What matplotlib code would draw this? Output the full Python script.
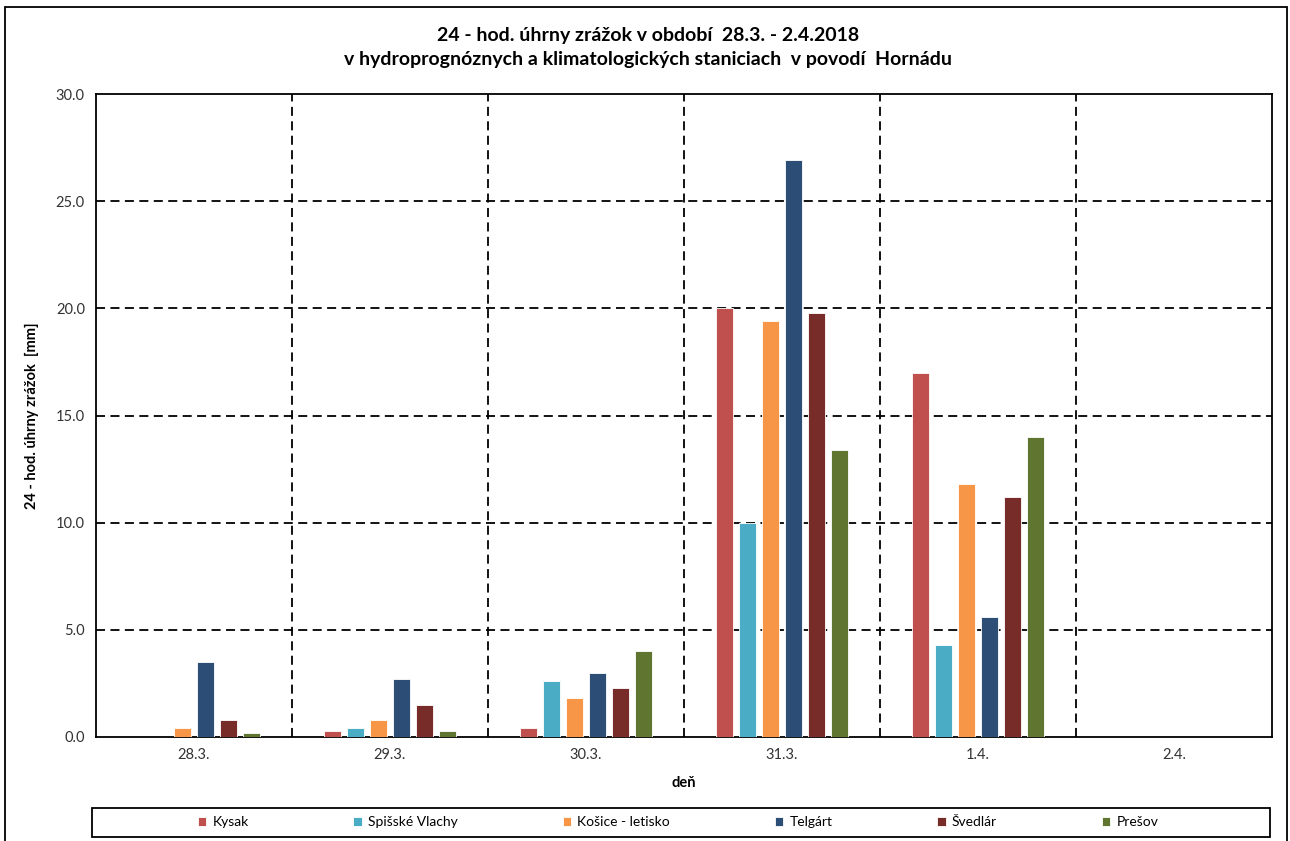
import numpy as np
import matplotlib.pyplot as plt
from matplotlib.patches import Rectangle

plt.rcParams['font.family'] = ['Lato', 'DejaVu Sans']

# --- data ---
days = ['28.3.', '29.3.', '30.3.', '31.3.', '1.4.', '2.4.']
stations = ['Kysak', 'Spišské Vlachy', 'Košice - letisko', 'Telgárt', 'Švedlár', 'Prešov']
kysak = [np.nan, 0.3, 0.4, 20.0, 17.0, np.nan]
spisske_vlachy = [np.nan, 0.4, 2.6, 10.0, 4.3, np.nan]
kosice_letisko = [0.4, 0.8, 1.8, 19.4, 11.8, np.nan]
telgart = [3.5, 2.7, 3.0, 26.9, 5.6, np.nan]
svedlar = [0.8, 1.5, 2.3, 19.8, 11.2, np.nan]
presov = [0.2, 0.3, 4.0, 13.4, 14.0, np.nan]
series = [kysak, spisske_vlachy, kosice_letisko, telgart, svedlar, presov]
colors = ['#C0504D', '#4BACC6', '#F79646', '#2C4D75', '#772C2A', '#5F7530']

W, H = 1290, 841
fig = plt.figure(figsize=(W / 100, H / 100), dpi=100)
ax = fig.add_axes([96 / W, 1 - 737 / H, (1272 - 96) / W, (737 - 94) / H])

x = np.arange(len(days))
step = 0.117
bw = 0.088
for i, (name, vals, c) in enumerate(zip(stations, series, colors)):
    ax.bar(x + (i - 2.5) * step, vals, width=bw, color=c, edgecolor='white',
           linewidth=0.6, label=name, zorder=3)

ax.set_xlim(-0.5, len(days) - 0.5)
ax.set_ylim(0, 30)
ax.set_yticks(np.arange(0, 31, 5))
ax.set_yticklabels([f'{v:.1f}' for v in np.arange(0, 31, 5)], fontsize=10.5, color='#333333')
ax.set_xticks(x)
ax.set_xticklabels(days, fontsize=10.5, color='#333333')
ax.tick_params(length=0, pad=8)

dash = dict(color='black', linestyle=(0, (5, 3)), linewidth=1.3, zorder=1)
for yv in np.arange(5, 30, 5):
    ax.axhline(yv, **dash)
for xv in np.arange(0.5, len(days) - 0.5, 1):
    ax.axvline(xv, **dash)

for s in ax.spines.values():
    s.set_linewidth(1.3)
    s.set_color('black')

ax.set_xlabel('deň', fontsize=10.5, fontweight='bold', labelpad=10)
ax.set_ylabel('24 - hod. úhrny zrážok  [mm]', fontsize=10.5, fontweight='bold', labelpad=12)

fig.text(0.502, 1 - 35 / H, '24 - hod. úhrny zrážok v období  28.3. - 2.4.2018',
         ha='center', va='center', fontsize=14, fontweight='bold')
fig.text(0.502, 1 - 60 / H, 'v hydroprognóznych a klimatologických staniciach  v povodí  Hornádu',
         ha='center', va='center', fontsize=14, fontweight='bold')

# outer chart frame
fig.patches.append(Rectangle((5 / W, -0.05), (1287 - 5) / W, 1 - 7 / H + 0.05,
                             transform=fig.transFigure, fill=False,
                             edgecolor='black', linewidth=1.3))
# legend frame
fig.patches.append(Rectangle((92 / W, 1 - 837 / H), (1270 - 92) / W, 29 / H,
                             transform=fig.transFigure, fill=False,
                             edgecolor='black', linewidth=1.3))

leg = ax.legend(loc='center', bbox_to_anchor=(678 / W, 1 - 822.5 / H),
                bbox_transform=fig.transFigure, ncol=6, fontsize=10,
                handlelength=0.6, handleheight=0.6, handletextpad=0.45,
                columnspacing=7.55, frameon=False, borderaxespad=0)

fig.savefig('out.png', dpi=100)
